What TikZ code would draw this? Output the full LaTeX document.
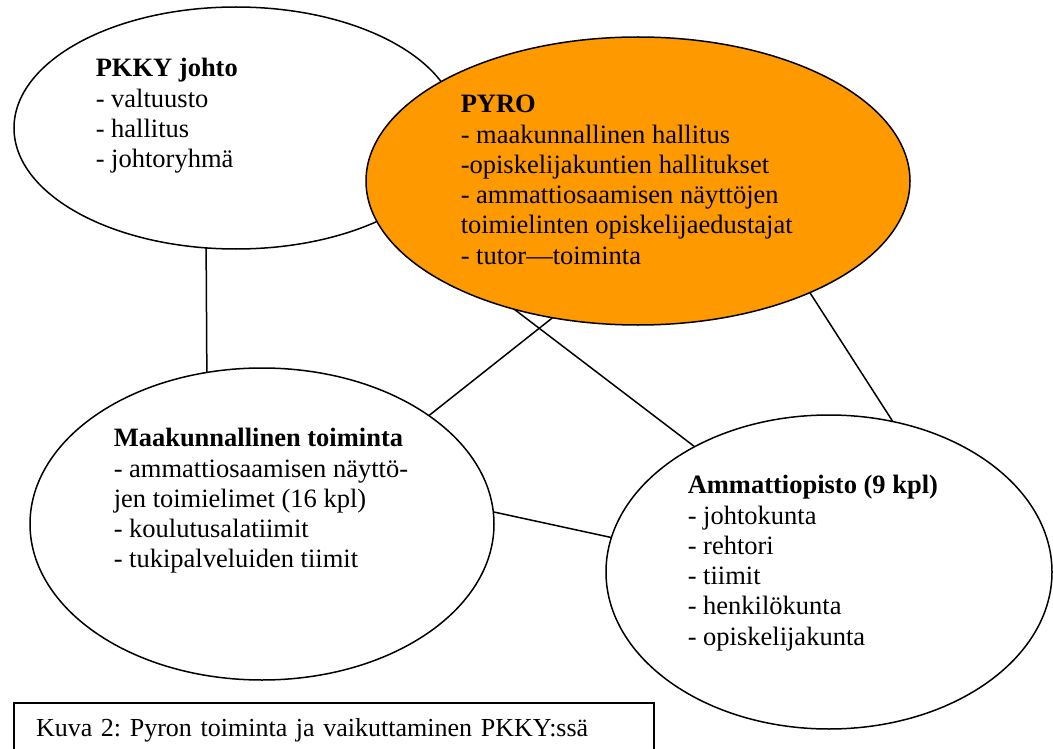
\documentclass[tikz,border=0pt]{standalone}
\usepackage{fontspec}
\setmainfont{Liberation Serif}
\usepackage{tikz}
\usetikzlibrary{shapes.geometric}
\definecolor{pyroorange}{RGB}{255,153,0}
\frenchspacing

\begin{document}
\begin{tikzpicture}[x=1pt, y=-1pt, line width=1.5pt,
        blob/.style={ellipse, draw, inner sep=0pt, outer sep=0pt},
        lista/.style={anchor=north west, inner sep=0pt, align=left, font=\fontsize{26.5}{30.3}\selectfont}]
    \useasboundingbox (0,0) rectangle (1053,749);
    \node[blob, minimum width=444pt, minimum height=242pt] (pkky) at (236,128) {};
    \node[blob, fill=pyroorange, minimum width=544pt, minimum height=288pt] (pyro) at (638,181) {};
    \node[blob, minimum width=464pt, minimum height=312pt] (maak) at (262,524) {};
    \node[blob, minimum width=446pt, minimum height=314pt] (opisto) at (829,572) {};
    \draw (pkky.256) -- (maak.110);
    \draw (pyro.238) -- (maak.33);
    \draw (pyro.226) -- (opisto.137);
    \draw (pyro.327) -- (opisto.67);
    \draw (maak.3) -- (opisto.171);
    \node[lista] (pkkytext) at (95,54.8) {\strut\textbf{PKKY johto}\\- valtuusto\\- hallitus\\- johtoryhmä};
    \node[lista] (pyrotext) at (460,90.8) {\strut\textbf{PYRO}\\- maakunnallinen hallitus\\-opiskelijakuntien hallitukset\\- ammattiosaamisen näyttöjen\\toimielinten opiskelijaedustajat\\- tutor—toiminta};
    \node[lista] (maaktext) at (113,424.8) {\strut\textbf{Maakunnallinen toiminta}\\- ammattiosaamisen näyttö-\\jen toimielimet (16 kpl)\\- koulutusalatiimit\\- tukipalveluiden tiimit};
    \node[lista] (opistotext) at (687,471.8) {\strut\textbf{Ammattiopisto (9 kpl)}\\- johtokunta\\- rehtori\\- tiimit\\- henkilökunta\\- opiskelijakunta};
    \node[draw, anchor=north west, outer sep=0pt, inner xsep=22pt, inner ysep=11.8pt, text width=596pt, align=left,
        font=\fontsize{26}{30.3}\selectfont] (kuva) at (14,703) {\strut Kuva 2: Pyron toiminta ja vaikuttaminen PKKY:ssä};
\end{tikzpicture}
\end{document}
